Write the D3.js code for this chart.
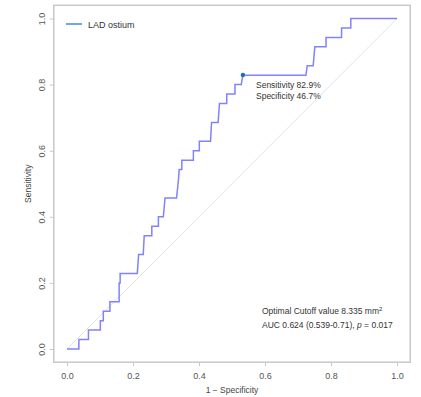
<!DOCTYPE html>
<html><head><meta charset="utf-8">
<script src="https://cdn.jsdelivr.net/npm/d3@7"></script>
<style>body{margin:0;background:#fff;} text{font-family:"Liberation Sans",Arial,sans-serif;}</style>
</head><body><svg id="c" width="421" height="397"></svg>
<script>
// ROC curve vertices: 1 - specificity (x) and sensitivity (y), n positives = 35
const fpr = [0,0.036,0.036,0.065,0.065,0.101,0.101,0.110,0.110,0.130,0.130,0.158,0.158,0.161,0.161,0.213,0.217,0.231,0.234,0.257,0.257,0.277,0.277,0.292,0.297,0.332,0.335,0.338,0.340,0.348,0.348,0.383,0.383,0.401,0.401,0.435,0.438,0.458,0.462,0.484,0.484,0.509,0.509,0.528,0.533,0.724,0.728,0.746,0.751,0.785,0.785,0.832,0.832,0.860,0.860,1.0];
const tprCount = [0,0,1,1,2,2,3,3,4,4,5,5,7,7,8,8,10,10,12,12,13,13,14,14,16,16,17,18,19,19,20,20,21,21,22,22,24,24,26,26,27,27,28,28,29,29,30,30,32,32,33,33,34,34,35,35];
const nPositive = 35;
const tpr = tprCount.map(k => k / nPositive);
const xTicks = [0,0.2,0.4,0.6,0.8,1.0];
const yTicks = [0,0.2,0.4,0.6,0.8,1.0];
const optimal = {fpr: 0.533, sens: 0.829};
const seriesName = "LAD ostium";
const annot1 = ["Sensitivity 82.9%", "Specificity 46.7%"];

const svg = d3.select("#c");
const x = d3.scaleLinear().domain([-0.04,1.04]).range([53.8,410.2]);
const y = d3.scaleLinear().domain([-0.04,1.04]).range([362.2,5.3]);

// diagonal
svg.append("line").attr("x1",x(0)).attr("y1",y(0)).attr("x2",x(1)).attr("y2",y(1))
  .attr("stroke","#e2e2e2").attr("stroke-width",1);

// box
svg.append("rect").attr("x",x(-0.04)).attr("y",y(1.04))
  .attr("width",x(1.04)-x(-0.04)).attr("height",y(-0.04)-y(1.04))
  .attr("fill","none").attr("stroke","#c8c8c8").attr("stroke-width",1.5);

// axes
const fmt = d3.format(".1f");
const gx = svg.append("g").attr("transform",`translate(0,${y(-0.04)})`)
  .call(d3.axisBottom(x).tickValues(xTicks).tickFormat(fmt).tickSize(4).tickPadding(6));
const gy = svg.append("g").attr("transform",`translate(${x(-0.04)},0)`)
  .call(d3.axisLeft(y).tickValues(yTicks).tickFormat(fmt).tickSize(4).tickPadding(6));
[gx,gy].forEach(g=>{
  g.select(".domain").remove();
  g.selectAll(".tick line").attr("stroke","#c8c8c8");
  g.selectAll(".tick text").attr("fill","#555").style("font-size","9px");
});
gy.selectAll(".tick text").attr("transform","rotate(-90)")
  .attr("x",0).attr("y",-9).attr("dy","0").attr("text-anchor","middle");

// axis titles
svg.append("text").attr("x",x(0.5)).attr("y",393).attr("text-anchor","middle")
  .attr("fill","#444").style("font-size","8.5px").text("1 \u2212 Specificity");
svg.append("text").attr("transform",`translate(31,${y(0.5)}) rotate(-90)`).attr("text-anchor","middle")
  .attr("fill","#444").style("font-size","8.5px").text("Sensitivity");

// ROC curve
const pts = fpr.map((v,i)=>[v,tpr[i]]);
svg.append("path").datum(pts)
  .attr("d", d3.line().x(d=>x(d[0])).y(d=>y(d[1])))
  .attr("fill","none").attr("stroke","#8282fa").attr("stroke-width",1.5);

// optimal point
svg.append("circle").attr("cx",x(optimal.fpr)).attr("cy",y(optimal.sens)).attr("r",2.2).attr("fill","#1f6fb5");
annot1.forEach((t,i)=>{
  svg.append("text").attr("x",256).attr("y",88+i*10.5).attr("fill","#333")
    .style("font-size","8.5px").text(t);
});

// legend
svg.append("line").attr("x1",66).attr("x2",82).attr("y1",24).attr("y2",24)
  .attr("stroke","#6fa8e3").attr("stroke-width",2);
svg.append("text").attr("x",88).attr("y",27.5).attr("fill","#333").style("font-size","9px").text(seriesName);

// bottom annotations
const t1 = svg.append("text").attr("x",262).attr("y",314).attr("fill","#333").style("font-size","8.5px");
t1.append("tspan").text("Optimal Cutoff value 8.335 mm");
t1.append("tspan").attr("dy",-3).style("font-size","6px").text("2");
const t2 = svg.append("text").attr("x",262).attr("y",328).attr("fill","#333").style("font-size","8.5px");
t2.append("tspan").text("AUC 0.624 (0.539-0.71), ");
t2.append("tspan").style("font-style","italic").text("p");
t2.append("tspan").text(" = 0.017");
</script></body></html>
